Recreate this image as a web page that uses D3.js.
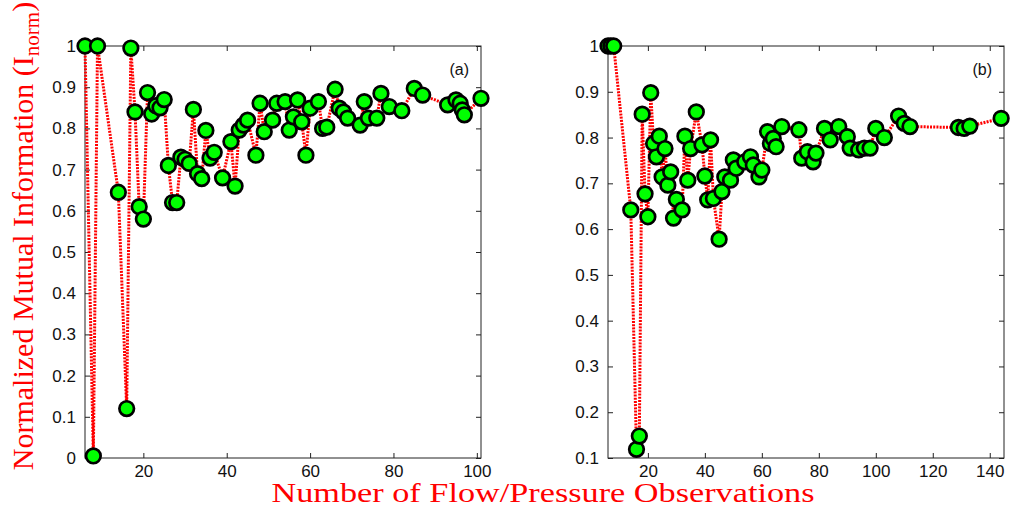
<!DOCTYPE html>
<html>
<head>
<meta charset="utf-8">
<script src="https://cdn.jsdelivr.net/npm/d3@7"></script>
<style>
  html, body { margin: 0; padding: 0; background: #fff; }
  svg { display: block; }
</style>
</head>
<body>
<svg id="chart" width="1010" height="508"></svg>
<script>
// ---- Data ----
const obsA = [6, 8, 9, 14, 16, 17, 18, 19, 20, 21, 22, 23, 24, 25, 26, 27, 28, 29, 30, 31, 32, 33, 34, 35, 36, 37,
  39, 41, 42, 43, 44, 45, 47, 48, 49, 51, 52, 54, 55, 56, 57, 58, 59, 60, 62, 63, 64, 66, 67, 68, 69, 72, 73, 74,
  76, 77, 79, 82, 85, 87, 93, 95, 96, 96.5, 97, 101];
const miA = [1.0, 0.005, 1.0, 0.645, 0.12, 0.995, 0.84, 0.61, 0.58, 0.887, 0.835, 0.855, 0.85, 0.87, 0.71, 0.62, 0.62,
  0.73, 0.725, 0.715, 0.846, 0.69, 0.678, 0.795, 0.728, 0.742, 0.68, 0.768, 0.66, 0.796, 0.808, 0.82, 0.735, 0.861,
  0.792, 0.82, 0.861, 0.865, 0.796, 0.828, 0.869, 0.816, 0.735, 0.849, 0.865, 0.80, 0.803, 0.895, 0.849, 0.84, 0.825,
  0.808, 0.865, 0.825, 0.825, 0.885, 0.853, 0.843, 0.897, 0.881, 0.857, 0.869, 0.861, 0.845, 0.833, 0.873];

const obsB = [6, 7, 8, 14, 16, 17, 18, 19, 20, 21, 22, 23, 24, 25, 26, 27, 28, 29, 30, 32, 33, 34, 35, 37, 39, 40, 41,
  42, 43, 45, 46, 47, 49, 50, 51, 54, 56, 57, 59, 60, 62, 63, 64, 65, 67, 73, 74, 76, 78, 79, 82, 84, 87, 90, 91, 94,
  96, 98, 100, 103, 108, 110, 112, 129, 131, 133, 144];
const miB = [1.0, 1.0, 1.0, 0.642, 0.119, 0.148, 0.851, 0.677, 0.627, 0.898, 0.787, 0.758, 0.803, 0.714, 0.776, 0.696,
  0.725, 0.624, 0.665, 0.642, 0.803, 0.707, 0.776, 0.856, 0.784, 0.716, 0.664, 0.795, 0.667, 0.578, 0.682, 0.714,
  0.707, 0.751, 0.733, 0.747, 0.758, 0.74, 0.714, 0.729, 0.813, 0.787, 0.798, 0.78, 0.824, 0.817, 0.755, 0.769, 0.747,
  0.766, 0.82, 0.795, 0.824, 0.802, 0.777, 0.773, 0.777, 0.777, 0.82, 0.80, 0.847, 0.831, 0.824, 0.822, 0.82, 0.825,
  0.842];

const xTicksA = [20, 40, 60, 80, 100];
const xTicksB = [20, 40, 60, 80, 100, 120, 140];
const yTicksA = [0, 0.1, 0.2, 0.3, 0.4, 0.5, 0.6, 0.7, 0.8, 0.9, 1];
const yTicksB = [0.1, 0.2, 0.3, 0.4, 0.5, 0.6, 0.7, 0.8, 0.9, 1];

const svg = d3.select('#chart');
const tickFont = '"Liberation Sans", Arial, sans-serif';
const labelFont = '"Liberation Serif", "Times New Roman", serif';

function fmtTick(d) {
  return d === 0 || d === 1 ? String(d) : d3.format('.1f')(d);
}

// ---- One panel ----
function drawPanel(opts) {
  const { xs, ys, xDomain, yDomain, xTicks, yTicks, left, right, top, bottom, tag } = opts;
  const x = d3.scaleLinear().domain(xDomain).range([left, right]);
  const y = d3.scaleLinear().domain(yDomain).range([bottom, top]);
  const g = svg.append('g');

  // box
  g.append('rect')
    .attr('x', left).attr('y', top)
    .attr('width', right - left).attr('height', bottom - top)
    .attr('fill', 'none').attr('stroke', '#222').attr('stroke-width', 1);

  const styleAxis = sel => {
    sel.select('.domain').remove();
    sel.selectAll('line').attr('stroke', '#222');
    sel.selectAll('text').attr('font-family', tickFont).attr('font-size', '17px').attr('fill', '#111');
  };

  g.append('g').attr('transform', `translate(0,${bottom})`)
    .call(d3.axisBottom(x).tickValues(xTicks).tickSizeInner(-5).tickSizeOuter(0).tickPadding(7))
    .call(styleAxis);
  g.append('g').attr('transform', `translate(0,${top})`)
    .call(d3.axisTop(x).tickValues(xTicks).tickSizeInner(-5).tickSizeOuter(0).tickFormat(''))
    .call(styleAxis);
  g.append('g').attr('transform', `translate(${left},0)`)
    .call(d3.axisLeft(y).tickValues(yTicks).tickSizeInner(-5).tickSizeOuter(0).tickPadding(9).tickFormat(fmtTick))
    .call(styleAxis);
  g.append('g').attr('transform', `translate(${right},0)`)
    .call(d3.axisRight(y).tickValues(yTicks).tickSizeInner(-5).tickSizeOuter(0).tickFormat(''))
    .call(styleAxis);

  // panel tag
  g.append('text')
    .attr('x', right - 12).attr('y', top + 29)
    .attr('text-anchor', 'end')
    .attr('font-family', tickFont).attr('font-size', '16px').attr('fill', '#111')
    .text(tag);

  const pts = xs.map((d, i) => [d, ys[i]]);

  // dotted red line
  g.append('path')
    .datum(pts)
    .attr('fill', 'none')
    .attr('stroke', '#ff0000')
    .attr('stroke-width', 3)
    .attr('stroke-dasharray', '2,1.2')
    .attr('d', d3.line().x(d => x(d[0])).y(d => y(d[1])));

  // markers
  g.append('g').selectAll('circle').data(pts).join('circle')
    .attr('cx', d => x(d[0])).attr('cy', d => y(d[1]))
    .attr('r', 7.3)
    .attr('fill', '#00ff00')
    .attr('stroke', '#000')
    .attr('stroke-width', 2.7);
}

drawPanel({
  xs: obsA, ys: miA, xDomain: [6, 101], yDomain: [0, 1],
  xTicks: xTicksA, yTicks: yTicksA,
  left: 85, right: 481, top: 46, bottom: 458, tag: '(a)'
});

drawPanel({
  xs: obsB, ys: miB, xDomain: [6, 145], yDomain: [0.1, 1],
  xTicks: xTicksB, yTicks: yTicksB,
  left: 608, right: 1004, top: 46, bottom: 458, tag: '(b)'
});

// ---- Axis titles ----
svg.append('text')
  .attr('x', 543).attr('y', 502)
  .attr('text-anchor', 'middle')
  .attr('font-family', labelFont).attr('font-size', '28px').attr('fill', '#ff0000')
  .attr('textLength', 543).attr('lengthAdjust', 'spacingAndGlyphs')
  .text('Number of Flow/Pressure Observations');

const yTitle = svg.append('text')
  .attr('transform', 'translate(33,236) rotate(-90)')
  .attr('text-anchor', 'middle')
  .attr('font-family', labelFont).attr('font-size', '30px').attr('fill', '#ff0000');
yTitle.append('tspan').text('Normalized Mutual Information (I');
yTitle.append('tspan').attr('font-size', '21px').attr('dy', 6).text('norm');
yTitle.append('tspan').attr('dy', -6).text(')');
</script>
</body>
</html>
